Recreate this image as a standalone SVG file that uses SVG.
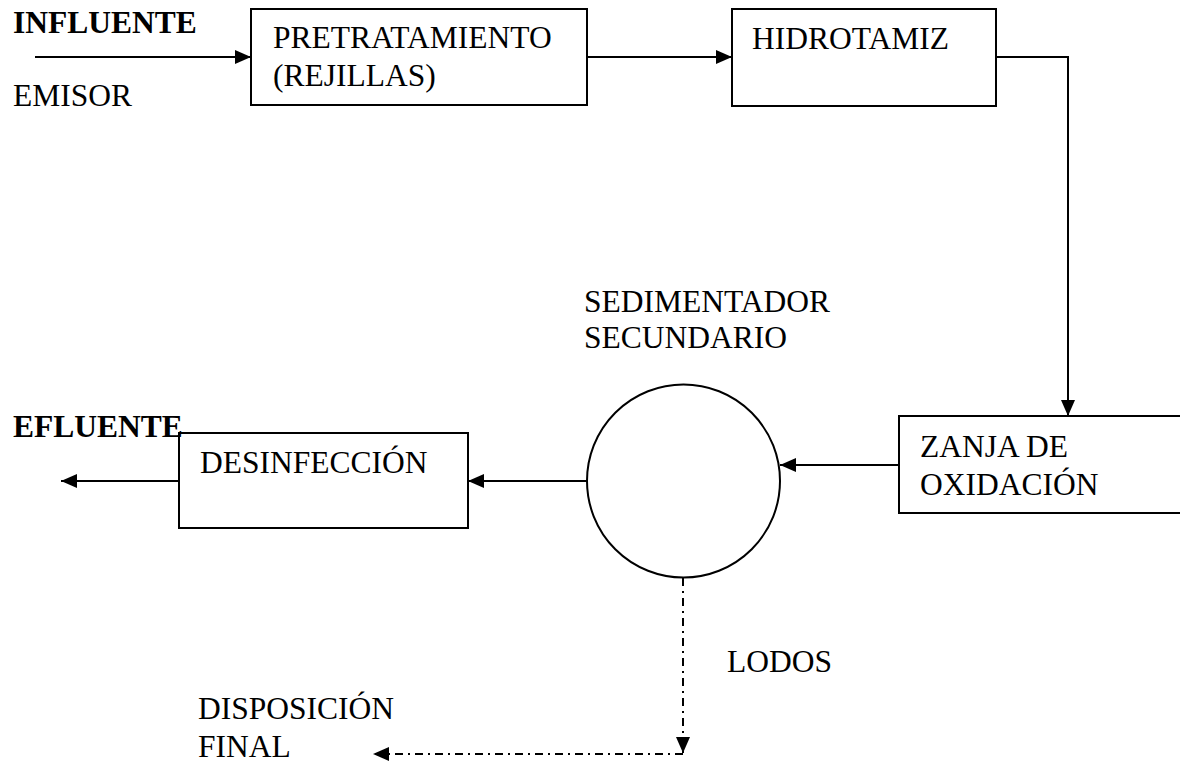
<svg xmlns="http://www.w3.org/2000/svg" width="1180" height="765" viewBox="0 0 1180 765">
<style>
text{font-family:"Liberation Serif","Times New Roman",serif;font-size:31.5px;fill:#000}
.b{font-weight:bold}
.box{fill:#fff;stroke:#000;stroke-width:2}
.ln{fill:none;stroke:#000;stroke-width:2}
.dd{fill:none;stroke:#000;stroke-width:2;stroke-dasharray:8 5 2 5}
</style>
<defs>
<marker id="ah" viewBox="0 0 16 14" refX="16" refY="7" markerWidth="16" markerHeight="14" markerUnits="userSpaceOnUse" orient="auto">
<path d="M0,0 L16,7 L0,14 z" fill="#000"/>
</marker>
</defs>
<rect width="1180" height="765" fill="#fff"/>
<g id="connectors">
<line class="ln" x1="35" y1="57" x2="251" y2="57" marker-end="url(#ah)"/>
<line class="ln" x1="587" y1="57" x2="732" y2="57" marker-end="url(#ah)"/>
<polyline class="ln" points="996,57 1068,57 1068,416" marker-end="url(#ah)"/>
<line class="ln" x1="899" y1="465" x2="780" y2="465" marker-end="url(#ah)"/>
<line class="ln" x1="587" y1="481" x2="468" y2="481" marker-end="url(#ah)"/>
<line class="ln" x1="179" y1="481" x2="61" y2="481" marker-end="url(#ah)"/>
<line class="dd" x1="683" y1="578" x2="683" y2="753" marker-end="url(#ah)"/>
<line class="dd" x1="683" y1="754" x2="373" y2="754" marker-end="url(#ah)"/>
</g>
<g id="influente"><text class="b" x="13" y="33">INFLUENTE</text><text x="13" y="106">EMISOR</text></g>
<g id="pretratamiento"><rect class="box" x="251" y="9" width="336" height="96"/><text x="273" y="48">PRETRATAMIENTO</text><text x="273" y="86">(REJILLAS)</text></g>
<g id="hidrotamiz"><rect class="box" x="732" y="9" width="264" height="97"/><text x="752" y="49">HIDROTAMIZ</text></g>
<g id="zanja"><rect class="box" x="899" y="416" width="290" height="97"/><text x="920" y="457">ZANJA DE</text><text x="920" y="495">OXIDACIÓN</text></g>
<g id="sedimentador"><circle class="box" cx="683.5" cy="481" r="96.5"/><text x="584" y="312">SEDIMENTADOR</text><text x="584" y="348">SECUNDARIO</text></g>
<g id="desinfeccion"><rect class="box" x="179" y="433" width="289" height="95"/><text x="200" y="473">DESINFECCIÓN</text></g>
<g id="efluente"><text class="b" x="13" y="437">EFLUENTE</text></g>
<g id="lodos"><text x="727" y="672">LODOS</text></g>
<g id="disposicion"><text x="198" y="719">DISPOSICIÓN</text><text x="198" y="757">FINAL</text></g>
</svg>
